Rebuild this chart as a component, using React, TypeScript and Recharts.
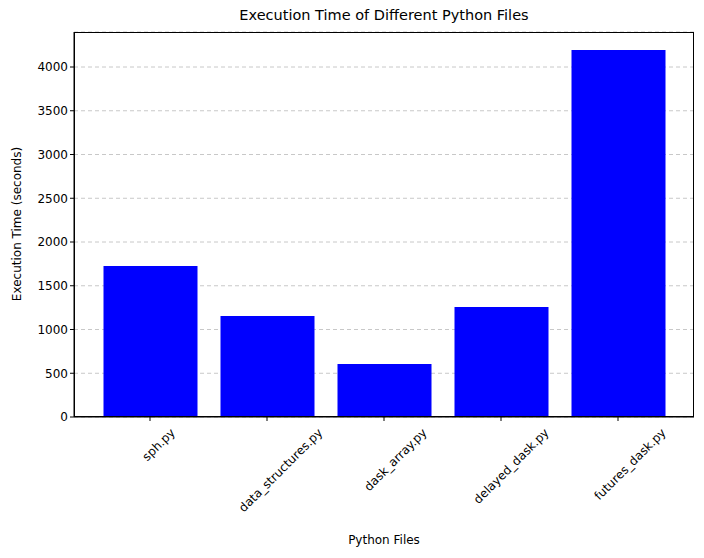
import { BarChart, Bar, XAxis, YAxis, CartesianGrid } from 'recharts';

const files = ['sph.py', 'data_structures.py', 'dask_array.py', 'delayed_dask.py', 'futures_dask.py'];
const times = [1726, 1154, 606, 1257, 4194];
const yTicks = [0, 500, 1000, 1500, 2000, 2500, 3000, 3500, 4000];

const data = files.map((f, i) => ({ file: f, time: times[i] }));

const font = 'DejaVu Sans, sans-serif';

// matplotlib centres the rotated label's box under the tick
const RotTick = ({ x, y, payload }: any) => {
  const len = String(payload.value).length * 7.2;
  return (
    <g transform={`translate(${x + len * 0.354 + 4},${y + 4})`}>
      <text textAnchor="end" transform="rotate(-45)" fontSize={12} fill="#000" fontFamily={font} dy={9}>
        {payload.value}
      </text>
    </g>
  );
};

export default function App() {
  return (
    <div style={{ position: 'absolute', left: 0, top: 0, width: 704, height: 558, background: '#fff', fontFamily: font }}>
      <div style={{ position: 'absolute', top: 7, left: 74, width: 620, textAlign: 'center', fontSize: 14.5 }}>
        Execution Time of Different Python Files
      </div>
      <div style={{ position: 'absolute', left: 74, width: 620, top: 533, textAlign: 'center', fontSize: 12 }}>
        Python Files
      </div>
      <div style={{ position: 'absolute', left: 17, top: 224, transform: 'translate(-50%,-50%) rotate(-90deg)', whiteSpace: 'nowrap', fontSize: 12 }}>
        Execution Time (seconds)
      </div>
      <BarChart width={704} height={558} data={data} margin={{ top: 32, right: 10, left: 14, bottom: 0 }}>
        <CartesianGrid vertical={false} strokeDasharray="4 3" stroke="#c8c8c8" />
        <XAxis
          dataKey="file"
          padding={{ left: 17.5, right: 17.5 }}
          height={141}
          interval={0}
          tick={<RotTick />}
          tickLine={{ stroke: '#000' }}
          tickSize={4}
          axisLine={{ stroke: '#000' }}
        />
        <YAxis
          width={60}
          domain={[0, 4400]}
          ticks={yTicks}
          allowDataOverflow
          tick={{ fontSize: 12, fill: '#000', fontFamily: font }}
          tickLine={{ stroke: '#000' }}
          tickSize={4}
          axisLine={{ stroke: '#000' }}
        />
        <Bar dataKey="time" fill="#0000ff" barSize={94} isAnimationActive={false} />
      </BarChart>
      <div style={{ position: 'absolute', left: 74, top: 32, width: 620, height: 385, border: '1px solid #000', boxSizing: 'border-box', pointerEvents: 'none' }} />
    </div>
  );
}
